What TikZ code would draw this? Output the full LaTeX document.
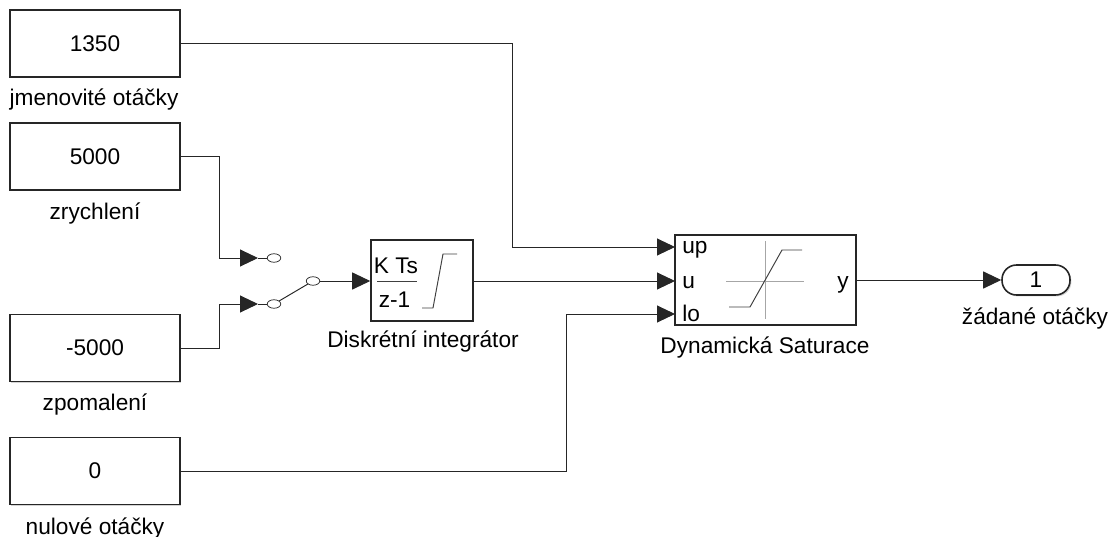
\documentclass[tikz,border=0pt]{standalone}
\usepackage{fontspec}
\setmainfont{Liberation Sans}
\usetikzlibrary{arrows.meta,shadows,shapes.geometric}

\tikzset{
    block/.style={draw=black!85, line width=0.9pt, fill=white, inner sep=0pt,
        drop shadow={shadow xshift=0.8pt, shadow yshift=-0.8pt, opacity=0.35}},
    constant/.style={block, minimum width=3.40cm, minimum height=1.34cm},
    label/.style={inner sep=0pt, anchor=base, font=\fontsize{12.9}{15}\selectfont},
    contact/.style={draw=black!80, line width=0.45pt, ellipse, inner sep=0pt, minimum width=0.27cm, minimum height=0.17cm},
    wire/.style={draw=black!85, line width=0.55pt},
    signal/.style={wire, -{Triangle[length=0.36cm,width=0.34cm]}},
    glyph/.style={draw=black!75, line width=0.55pt},
}

\begin{document}
\begin{tikzpicture}[x=0.02cm, y=-0.02cm]
    \useasboundingbox (0,0) rectangle (1115,537);

    % zdroje
    \node[constant] (rated) at (95,43.5) {};
    \node[label] (ratedvalue) at (95,52) {1350};
    \node[label] (ratedlabel) at (94,106) {jmenovité otáčky};
    \node[constant] (accel) at (95,156.5) {};
    \node[label] (accelvalue) at (95,164) {5000};
    \node[label] (accellabel) at (95,219) {zrychlení};
    \node[constant] (decel) at (95,348) {};
    \node[label] (decelvalue) at (95,355) {-5000};
    \node[label] (decellabel) at (95,410) {zpomalení};
    \node[constant] (zero) at (95,471) {};
    \node[label] (zerovalue) at (95,478) {0};
    \node[label] (zerolabel) at (95,534) {nulové otáčky};

    % integrator
    \node[block, minimum width=2.04cm, minimum height=1.62cm] (integ) at (422,280.5) {};
    \node[label] (integnum) at (396,273) {K Ts};
    \node[label] (integden) at (394.5,307) {z-1};
    \draw[glyph] (377,281) -- (417,281);
    \draw[glyph] (422,308) -- (433,308) -- (443,254) -- (457,254);
    \node[label] (integlabel) at (423,347) {Diskrétní integrátor};

    % saturace
    \node[block, minimum width=3.62cm, minimum height=1.80cm] (sat) at (765.5,280) {};
    \coordinate (satup) at (675,247);
    \coordinate (satu) at (675,281);
    \coordinate (satlo) at (675,314);
    \node[label, anchor=base west] (portup) at (682,253) {up};
    \node[label, anchor=base west] (portu) at (682,288) {u};
    \node[label, anchor=base west] (portlo) at (682,321) {lo};
    \node[label, anchor=base east] (porty) at (849,288) {y};
    \draw[draw=black!35, line width=0.4pt] (726,281) -- (804,281);
    \draw[draw=black!35, line width=0.4pt] (765,241) -- (765,319);
    \draw[glyph] (729,307) -- (750,307) -- (782,250) -- (802,250);
    \node[label] (satlabel) at (765,353) {Dynamická Saturace};

    % vystup
    \node[block, rounded corners=0.29cm, minimum width=1.36cm, minimum height=0.60cm] (out) at (1036,280) {};
    \node[label] (outvalue) at (1036,287) {1};
    \node[label] (outlabel) at (1035,324) {žádané otáčky};

    % prepinac
    \node[contact] (swa) at (274,258) {};
    \node[contact] (swb) at (274,304) {};
    \node[contact] (swc) at (313,281) {};
    \coordinate (ina) at (258,258);
    \coordinate (inb) at (258,304);
    \coordinate (tailc) at (326,281);
    \draw[wire] (ina) -- (swa);
    \draw[wire] (inb) -- (swb);
    \draw[wire] (swb) -- (swc);
    \draw[wire] (swc) -- (tailc);

    % spoje
    \coordinate (bendup) at (512,247);
    \coordinate (bendlo) at (566,314);
    \coordinate (bendacc) at (219,258);
    \coordinate (benddec) at (219,304);
    \draw[signal] (rated.east) -| (bendup) -- (satup);
    \draw[signal] (accel.east) -| (bendacc) -- (ina);
    \draw[signal] (decel.east) -| (benddec) -- (inb);
    \draw[signal] (zero.east) -| (bendlo) -- (satlo);
    \draw[signal] (tailc) -- (integ.west |- tailc);
    \draw[signal] (integ.east |- satu) -- (satu);
    \draw[signal] (sat.east |- out.west) -- (out.west);
\end{tikzpicture}
\end{document}
